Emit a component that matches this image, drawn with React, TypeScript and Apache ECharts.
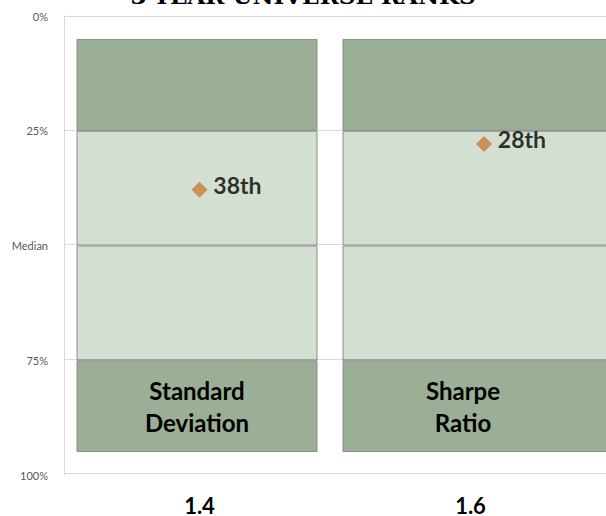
import React, { useEffect, useRef } from "react";
import * as echarts from "echarts";

// ---- data ----
const titleText = "3-YEAR UNIVERSE RANKS";
const metrics = ["Standard\nDeviation", "Sharpe\nRatio"];
const boxStart = [5, 5]; // percentile where the box starts (invisible offset)
const topQuartile = [20, 20]; // 5% -> 25%
const secondQuartile = [25, 25]; // 25% -> Median
const thirdQuartile = [25, 25]; // Median -> 75%
const bottomQuartile = [20, 20]; // 75% -> 95%
const ranks = [38, 28];
const rankX = [1.4, 1.61];
const xTickValues = [1.4, 1.6];
const yTickValues = [0, 25, 50, 75, 100];
const yTickLabels = ["0%", "25%", "Median", "75%", "100%"];

const DARK = "#9AAF96";
const LIGHT = "#D3DFD0";
const BORDER = "#8C8C8C";
const GRIDLINE = "#D9D9D9";
const FONT = "Lato, 'Open Sans', sans-serif";

function ordinal(n: number): string {
  const s = n % 100;
  if (s >= 11 && s <= 13) return n + "th";
  switch (n % 10) {
    case 1:
      return n + "st";
    case 2:
      return n + "nd";
    case 3:
      return n + "rd";
    default:
      return n + "th";
  }
}

export default function App() {
  const ref = useRef<HTMLDivElement>(null);

  useEffect(() => {
    if (!ref.current) return;
    const chart = echarts.init(ref.current, undefined, { renderer: "svg" });

    const segments = [
      { name: "start", values: boxStart, color: "transparent", border: 0 },
      { name: "q1", values: topQuartile, color: DARK, border: 1 },
      { name: "q2", values: secondQuartile, color: LIGHT, border: 1 },
      { name: "q3", values: thirdQuartile, color: LIGHT, border: 1 },
      { name: "q4", values: bottomQuartile, color: DARK, border: 1 },
    ];
    // one stack per metric so each column can have its own width;
    // the last stack's width sets the common left alignment (barGap -100%)
    const stackDefs = [
      { idx: 1, stack: "sharpe", width: 300 },
      { idx: 0, stack: "stddev", width: 241 },
    ];
    const barSeries: any[] = [];
    stackDefs.forEach((sd) => {
      segments.forEach((seg) => {
        barSeries.push({
          type: "bar",
          name: seg.name + "-" + sd.stack,
          stack: sd.stack,
          xAxisIndex: 0,
          yAxisIndex: 0,
          barWidth: sd.width,
          barGap: "-100%",
          clip: false,
          silent: true,
          data: metrics.map((_, i) => (i === sd.idx ? seg.values[i] : "-")),
          itemStyle: {
            color: seg.color,
            borderColor: seg.border ? BORDER : "transparent",
            borderWidth: seg.border,
          },
        });
      });
    });

    const option: any = {
      animation: false,
      graphic: [
        {
          type: "text",
          left: "center",
          top: -16,
          z: 100,
          style: {
            text: titleText,
            font: "bold 23px 'DejaVu Serif', serif",
            fill: "#000",
          },
        },
      ],
      grid: [
        { left: 64, top: 16, width: 532, height: 459 },
        { left: 64, top: 16, right: 0, height: 459 },
      ],
      xAxis: [
        {
          type: "category",
          gridIndex: 0,
          data: metrics,
          z: 10,
          axisLine: { show: false },
          axisTick: { show: false },
          axisLabel: {
            inside: true,
            margin: 69,
            verticalAlign: "middle",
            fontFamily: FONT,
            fontWeight: "bold",
            fontSize: 24,
            lineHeight: 32,
            color: "#000",
          },
        },
        {
          type: "value",
          gridIndex: 1,
          min: 1.3,
          max: 1.7,
          axisLine: { show: false },
          axisTick: { show: false },
          splitLine: { show: false },
          axisLabel: {
            customValues: xTickValues,
            margin: 21,
            fontFamily: FONT,
            fontWeight: "bold",
            fontSize: 22,
            color: "#000",
            formatter: (v: number) => v.toFixed(1),
          },
        },
      ],
      yAxis: [
        {
          type: "value",
          gridIndex: 0,
          inverse: true,
          min: 0,
          max: 100,
          interval: 25,
          axisLine: { show: true, lineStyle: { color: GRIDLINE } },
          axisTick: { show: false },
          splitLine: { show: false },
          axisLabel: {
            margin: 16,
            fontFamily: FONT,
            fontSize: 11,
            color: "#595959",
            formatter: (v: number) => yTickLabels[yTickValues.indexOf(v)] ?? "",
          },
        },
        {
          type: "value",
          gridIndex: 1,
          inverse: true,
          min: 0,
          max: 100,
          interval: 25,
          axisLine: { show: false },
          axisTick: { show: false },
          axisLabel: { show: false },
          splitLine: { show: true, lineStyle: { color: GRIDLINE, width: 1 } },
        },
      ],
      series: [
        ...barSeries,
        {
          type: "scatter",
          xAxisIndex: 1,
          yAxisIndex: 1,
          symbol: "diamond",
          symbolSize: 15,
          z: 5,
          silent: true,
          data: ranks.map((r, i) => [rankX[i], r]),
          itemStyle: { color: "#CF7A33", borderColor: "#B0621F", borderWidth: 0.6 },
          label: {
            show: true,
            position: "right",
            distance: 6,
            offset: [0, -5],
            fontFamily: FONT,
            fontWeight: "bold",
            fontSize: 23,
            color: "#000",
            formatter: (p: any) => ordinal(p.value[1]),
          },
        },
      ],
    };
    chart.setOption(option);
    return () => chart.dispose();
  }, []);

  return (
    <div
      ref={ref}
      style={{ position: "fixed", left: 0, top: 0, width: 606, height: 516, background: "#fff" }}
    />
  );
}
